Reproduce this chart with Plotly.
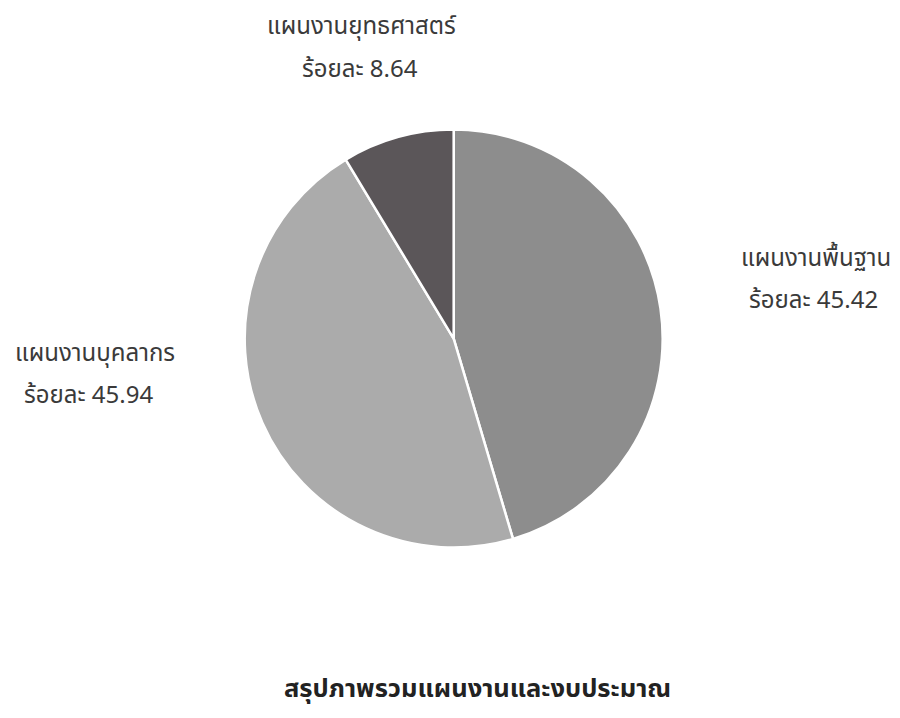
import plotly.graph_objects as go

labels = ["แผนงานพื้นฐาน", "แผนงานบุคลากร", "แผนงานยุทธศาสตร์"]
values = [45.42, 45.94, 8.64]
colors = ["#8d8d8d", "#ababab", "#5b5659"]
title_text = "สรุปภาพรวมแผนงานและงบประมาณ"

fig = go.Figure(go.Pie(
    labels=labels,
    values=values,
    sort=False,
    direction="clockwise",
    rotation=0,
    marker=dict(colors=colors, line=dict(color="white", width=2.5)),
    textinfo="none",
    hoverinfo="label+percent",
    showlegend=False,
    domain=dict(x=[0.2630, 0.7274], y=[0.2480, 0.8312]),
))

# (left x line1, y line1, left x line2, y line2) in figure pixels
label_pos = [(731, 248, 739, 290), (5, 343, 14, 385), (257, 17, 292, 60)]
font = dict(family="Noto Sans, Noto Sans Thai, sans-serif", size=24, color="#3a3a3a")
annotations = []
for (x1, y1, x2, y2), lab, val in zip(label_pos, labels, values):
    for px, py, txt in ((x1, y1, lab), (x2, y2, f"ร้อยละ {val:.2f}")):
        annotations.append(dict(
            x=px / 900, y=1 - py / 718, xref="paper", yref="paper",
            text=txt, showarrow=False, font=font, align="left",
            xanchor="left", yanchor="middle",
        ))
annotations.append(dict(
    x=274 / 900, y=1 - 679 / 718, xref="paper", yref="paper",
    text=f"<b>{title_text}</b>", showarrow=False,
    font=dict(family="Noto Sans, Noto Sans Thai, sans-serif", size=25.5, color="#222222"),
    xanchor="left", yanchor="middle", align="left",
))

fig.update_layout(
    width=900, height=718,
    margin=dict(l=0, r=0, t=0, b=0),
    paper_bgcolor="white", plot_bgcolor="white",
    annotations=annotations,
)
fig.write_html("out.html")
